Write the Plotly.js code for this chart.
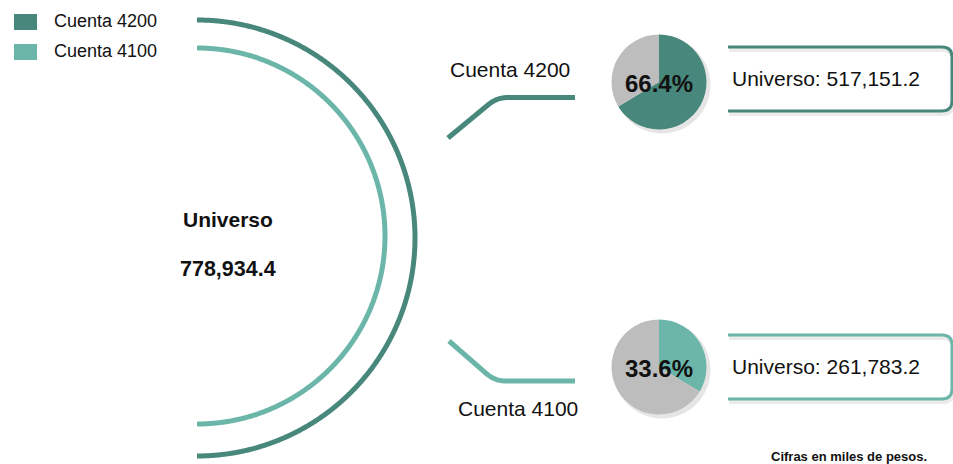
<!DOCTYPE html>
<html>
<head>
<meta charset="utf-8">
<script src="https://cdn.plot.ly/plotly-3.0.1.min.js"></script>
<style>html,body{margin:0;padding:0;background:#fff;}#chart{width:953px;height:464px;}</style>
</head>
<body>
<div id="chart"></div>
<script>
// ---- Data ----
const cuentas = ['Cuenta 4200', 'Cuenta 4100'];
const universoCuenta = [517151.2, 261783.2];
const universoTotal = 778934.4;
const porcentajes = [66.4, 33.6];
const nota = 'Cifras en miles de pesos.';

// ---- Styles ----
const colores = ['#48877b', '#6bb5a9'];
const gris = '#bdbdbd';
const FONT = 'Liberation Sans, Arial, sans-serif';
const fmt = v => v.toLocaleString('en-US', {minimumFractionDigits: 1, maximumFractionDigits: 1});

const W = 953, H = 464;
const traces = [];
const shapes = [];
const annotations = [];

// Semicircle arcs (outer = 4200, inner = 4100)
const arcs = [{cx: 197, cy: 238, r: 218}, {cx: 197, cy: 236, r: 188}];
arcs.forEach((a, i) => {
  const xs = [], ys = [];
  for (let k = 0; k <= 720; k++) {
    const t = -Math.PI / 2 + Math.PI * k / 720;
    xs.push(a.cx + a.r * Math.cos(t));
    ys.push(a.cy + a.r * Math.sin(t));
  }
  traces.push({type: 'scatter', mode: 'lines', x: xs, y: ys, hoverinfo: 'skip',
    line: {color: colores[i], width: 5, simplify: false}, showlegend: false});
});

// Connectors: start point, corner, end point; corner rounded with a quadratic curve
const conectores = [
  {start: [448, 138], corner: [497, 97.5], end: [575, 97.5]},
  {start: [449, 341], corner: [495, 381], end: [575, 381]}
];
conectores.forEach((c, i) => {
  const [sx, sy] = c.start, [kx, ky] = c.corner, [ex, ey] = c.end;
  const d1 = Math.hypot(kx - sx, ky - sy), rr = 11;
  const p0 = [kx - (kx - sx) * rr / d1, ky - (ky - sy) * rr / d1];
  const p2 = [kx + rr, ky];
  const xs = [sx], ys = [sy];
  for (let k = 0; k <= 20; k++) {
    const t = k / 20;
    xs.push((1 - t) * (1 - t) * p0[0] + 2 * (1 - t) * t * kx + t * t * p2[0]);
    ys.push((1 - t) * (1 - t) * p0[1] + 2 * (1 - t) * t * ky + t * t * p2[1]);
  }
  xs.push(ex); ys.push(ey);
  traces.push({type: 'scatter', mode: 'lines', x: xs, y: ys, hoverinfo: 'skip',
    line: {color: colores[i], width: 5, simplify: false}, showlegend: false});
});

// Pies
const pieGeo = [{cx: 659, cy: 82, r: 47.5}, {cx: 659, cy: 367, r: 47.5}];
pieGeo.forEach((p, i) => {
  shapes.push({type: 'circle', xref: 'x', yref: 'y', x0: p.cx - p.r + 2, x1: p.cx + p.r + 4,
    y0: p.cy - p.r + 2, y1: p.cy + p.r + 4, line: {width: 0}, fillcolor: 'rgba(0,0,0,0.10)', layer: 'below'});
  traces.push({type: 'pie', values: [porcentajes[i], 100 - porcentajes[i]],
    labels: [cuentas[i], 'Resto'], sort: false, direction: 'clockwise', rotation: 0,
    marker: {colors: [colores[i], gris], line: {width: 0}}, textinfo: 'none', hoverinfo: 'skip',
    showlegend: false,
    domain: {x: [(p.cx - p.r) / W, (p.cx + p.r) / W], y: [1 - (p.cy + p.r) / H, 1 - (p.cy - p.r) / H]}});
  annotations.push({xref: 'x', yref: 'y', x: p.cx - 0.5, y: p.cy + 1, text: '<b>' + porcentajes[i].toFixed(1) + '%</b>',
    showarrow: false, font: {family: FONT, size: 24, color: '#111'}, xanchor: 'center', yanchor: 'middle'});
});

// Boxes
const cajas = [{y0: 47, y1: 111}, {y0: 335, y1: 399}];
cajas.forEach((b, i) => {
  const x0 = 728, x1 = 952, rr = 10;
  const path = (dx, dy) => `M ${x0 + dx} ${b.y0 + dy} L ${x1 - rr + dx} ${b.y0 + dy} Q ${x1 + dx} ${b.y0 + dy} ${x1 + dx} ${b.y0 + rr + dy} L ${x1 + dx} ${b.y1 - rr + dy} Q ${x1 + dx} ${b.y1 + dy} ${x1 - rr + dx} ${b.y1 + dy} L ${x0 + dx} ${b.y1 + dy}`;
  shapes.push({type: 'path', xref: 'x', yref: 'y', path: path(1, 3), line: {color: 'rgba(0,0,0,0.08)', width: 4}, layer: 'below'});
  shapes.push({type: 'path', xref: 'x', yref: 'y', path: path(0, 0), line: {color: colores[i], width: 3}});
  annotations.push({xref: 'x', yref: 'y', x: 730, y: (b.y0 + b.y1) / 2 - 1, text: 'Universo: ' + fmt(universoCuenta[i]),
    showarrow: false, xanchor: 'left', yanchor: 'middle', font: {family: FONT, size: 21, color: '#111'}});
});

// Connector labels
annotations.push({xref: 'x', yref: 'y', x: 510, y: 69, text: cuentas[0], showarrow: false,
  font: {family: FONT, size: 21, color: '#111'}, xanchor: 'center', yanchor: 'middle'});
annotations.push({xref: 'x', yref: 'y', x: 518, y: 408, text: cuentas[1], showarrow: false,
  font: {family: FONT, size: 21, color: '#111'}, xanchor: 'center', yanchor: 'middle'});

// Center text
annotations.push({xref: 'x', yref: 'y', x: 228, y: 219, text: '<b>Universo</b>', showarrow: false,
  font: {family: FONT, size: 21, color: '#111'}, xanchor: 'center', yanchor: 'middle'});
annotations.push({xref: 'x', yref: 'y', x: 228, y: 269, text: '<b>' + fmt(universoTotal) + '</b>', showarrow: false,
  font: {family: FONT, size: 21.5, color: '#111'}, xanchor: 'center', yanchor: 'middle'});

// Legend
cuentas.forEach((c, i) => {
  const y = 22 + i * 30;
  shapes.push({type: 'rect', xref: 'x', yref: 'y', x0: 14, x1: 37, y0: y - 8, y1: y + 8,
    fillcolor: colores[i], line: {width: 0}});
  annotations.push({xref: 'x', yref: 'y', x: 52, y: y - 1, text: c, showarrow: false,
    xanchor: 'left', yanchor: 'middle', font: {family: FONT, size: 18, color: '#111'}});
});

// Note
annotations.push({xref: 'x', yref: 'y', x: 929, y: 456, text: '<b>' + nota + '</b>', showarrow: false,
  xanchor: 'right', yanchor: 'middle', font: {family: FONT, size: 13, color: '#111'}});

const layout = {
  width: W, height: H, margin: {l: 0, r: 0, t: 0, b: 0, pad: 0},
  paper_bgcolor: '#fff', plot_bgcolor: 'rgba(0,0,0,0)', showlegend: false,
  xaxis: {range: [0, W], visible: false, fixedrange: true},
  yaxis: {range: [H, 0], visible: false, fixedrange: true},
  shapes: shapes, annotations: annotations
};
Plotly.newPlot('chart', traces, layout, {displayModeBar: false, staticPlot: true});
</script>
</body>
</html>
